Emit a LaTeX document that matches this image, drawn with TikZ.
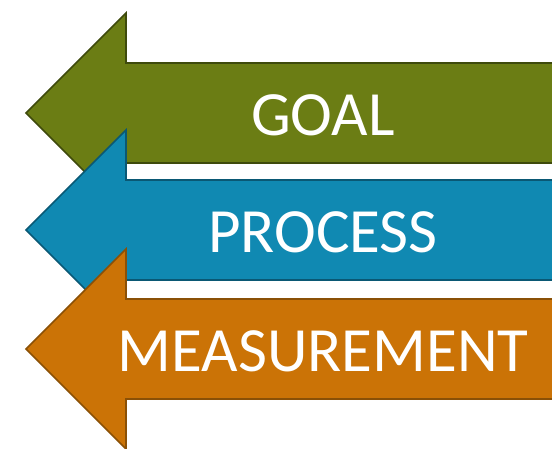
\documentclass[tikz,border=0pt]{standalone}
\usepackage{fontspec}
\setmainfont{Carlito}
\usepackage{tikz}

\definecolor{goalgreen}{RGB}{107,125,20}
\definecolor{goaledge}{RGB}{62,74,12}
\definecolor{processblue}{RGB}{16,137,178}
\definecolor{processedge}{RGB}{10,88,116}
\definecolor{measureorange}{RGB}{203,115,6}
\definecolor{measureedge}{RGB}{138,80,6}

\begin{document}
\begin{tikzpicture}[
    x=1pt, y=-1pt,
    bigarrow/.style={
        line width=1.6pt,
        line join=miter
    },
    goalshape/.style={bigarrow, fill=goalgreen, draw=goaledge},
    processshape/.style={bigarrow, fill=processblue, draw=processedge},
    measureshape/.style={bigarrow, fill=measureorange, draw=measureedge},
    arrowtext/.style={
        text=white,
        inner sep=0pt,
        font=\fontsize{63}{63}\selectfont
    }
]
\path[use as bounding box, clip] (0,0) rectangle (552,448);

% left-pointing arrows, each laid over the one above
\draw[goalshape] (26,113) -- ++(100,-100) -- ++(0,50) -- ++(450,0)
    -- ++(0,100) -- ++(-450,0) -- ++(0,50) -- cycle;
\draw[processshape] (26,230) -- ++(100,-100) -- ++(0,50) -- ++(450,0)
    -- ++(0,100) -- ++(-450,0) -- ++(0,50) -- cycle;
\draw[measureshape] (26,349) -- ++(100,-100) -- ++(0,50) -- ++(450,0)
    -- ++(0,100) -- ++(-450,0) -- ++(0,50) -- cycle;

\node[arrowtext] (goal) at (323,115) {GOAL};
\node[arrowtext] (process) at (323,232) {PROCESS};
\node[arrowtext] (measurement) at (323,351) {MEASUREMENT};
\end{tikzpicture}
\end{document}
